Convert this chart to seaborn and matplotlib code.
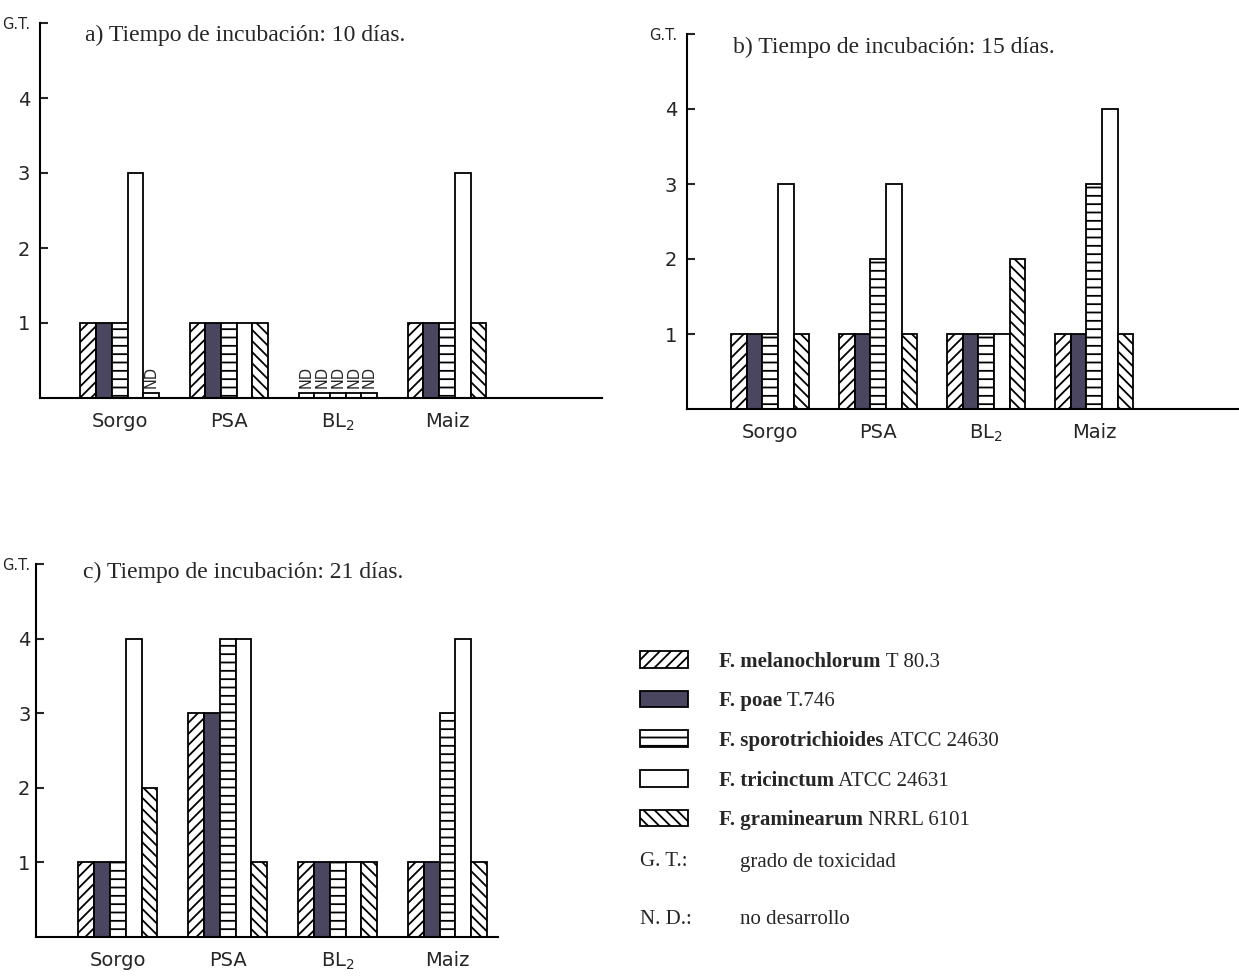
import pandas as pd
import seaborn as sns
import matplotlib.pyplot as plt
from matplotlib.patches import Patch

sns.set_style("white")
plt.rcParams["font.family"] = ["DejaVu Sans"]
plt.rcParams["hatch.linewidth"] = 1.3
plt.rcParams["mathtext.fontset"] = "dejavusans"

# datos
sustratos = ["Sorgo", "PSA", "BL$_2$", "Maiz"]
cepas = ["F. melanochlorum", "F. poae", "F. sporotrichioides",
         "F. tricinctum", "F. graminearum"]
cepas_ref = ["T 80.3", "T.746", "ATCC 24630", "ATCC 24631", "NRRL 6101"]

# grado de toxicidad por sustrato (filas) y cepa (columnas); None = N.D.
gt_10 = [[1, 1, 1, 3, None],
         [1, 1, 1, 1, 1],
         [None, None, None, None, None],
         [1, 1, 1, 3, 1]]
gt_15 = [[1, 1, 1, 3, 1],
         [1, 1, 2, 3, 1],
         [1, 1, 1, 1, 2],
         [1, 1, 3, 4, 1]]
gt_21 = [[1, 1, 1, 4, 2],
         [3, 3, 4, 4, 1],
         [1, 1, 1, 1, 1],
         [1, 1, 3, 4, 1]]

titulos = ["a) Tiempo de incubación: 10 días.",
           "b) Tiempo de incubación: 15 días.",
           "c) Tiempo de incubación: 21 días."]

# estilo
colores = ["white", "#4a4660", "white", "white", "white"]
tramas = ["///", "", "--", "", "\\\\\\"]
ND_ALTO = 0.07
W, H = 1239, 976
SERIF = "Liberation Serif"


def tabla(gt):
    filas = []
    for s, vals in zip(sustratos, gt):
        for c, v in zip(cepas, vals):
            filas.append({"sustrato": s, "cepa": c,
                          "gt": ND_ALTO if v is None else v,
                          "nd": v is None})
    return pd.DataFrame(filas)


def panel(fig, rect, gt, xlim, pad=7):
    ax = fig.add_axes(rect)
    df = tabla(gt)
    sns.barplot(data=df, x="sustrato", y="gt", hue="cepa", order=sustratos,
                hue_order=cepas, palette=colores, saturation=1,
                edgecolor="black", linewidth=1.3, width=0.72,
                errorbar=None, legend=False, ax=ax)
    # un contenedor por cepa, en el orden de hue_order
    for i, cont in enumerate(ax.containers):
        for j, bar in enumerate(cont):
            bar.set_hatch(tramas[i])
            if gt[j][i] is None:
                bar.set_facecolor("white")
                bar.set_hatch("")
                ax.text(bar.get_x() + bar.get_width() / 2, ND_ALTO + 0.07,
                        "ND", rotation=90, ha="center", va="bottom",
                        fontsize=10.5)
    ax.set_xlim(*xlim)
    ax.set_ylim(0, 5)
    ax.set_xlabel("")
    ax.set_ylabel("")
    ax.set_yticks([1, 2, 3, 4, 5])
    ax.set_yticklabels(["1", "2", "3", "4", "G.T."])
    ax.tick_params(axis="y", direction="in", length=6, width=1.5,
                   labelsize=14, pad=pad, left=True)
    ax.get_yticklabels()[-1].set_fontsize(10.5)
    ax.tick_params(axis="x", length=0, labelsize=14, pad=10)
    for s in ["top", "right"]:
        ax.spines[s].set_visible(False)
    for s in ["left", "bottom"]:
        ax.spines[s].set_linewidth(1.5)
        ax.spines[s].set_color("black")
    ax.patch.set_alpha(0)
    return ax


fig = plt.figure(figsize=(W / 100, H / 100), dpi=100)

ax_a = panel(fig, [40 / W, 1 - 398 / H, 562 / W, 375 / H], gt_10, (-0.73, 4.42))
ax_b = panel(fig, [687 / W, 1 - 409 / H, 552 / W, 375 / H], gt_15, (-0.77, 4.34))
ax_c = panel(fig, [36 / W, 1 - 937 / H, 462 / W, 373 / H], gt_21, (-0.745, 3.46),
             pad=4)

for (x, y), t in zip([(85, 35), (733, 47), (83, 572)], titulos):
    fig.text(x / W, 1 - y / H, t, family=SERIF, fontsize=17, va="center")

# leyenda
handles = [Patch(facecolor=c, edgecolor="black", hatch=h, linewidth=1.3)
           for c, h in zip(colores, tramas)]
leg = fig.legend(handles, cepas, loc="upper left",
                 bbox_to_anchor=(640 / W, 1 - 651 / H), frameon=False,
                 prop={"family": SERIF, "weight": "bold", "size": 15},
                 handlelength=2.3, handleheight=0.85, labelspacing=0.92,
                 handletextpad=1.5, borderpad=0, borderaxespad=0)

# cepa (texto normal) a continuación del nombre en negrita
fig.canvas.draw()
rend = fig.canvas.get_renderer()
for t, ref in zip(leg.get_texts(), cepas_ref):
    bb = t.get_window_extent(rend)
    fig.text(bb.x1 / W, bb.y0 / H, " " + ref, ha="left", va="bottom",
             family=SERIF, fontsize=15)

fig.text(640 / W, 1 - 862 / H, "G. T.:", family=SERIF, fontsize=15, va="center")
fig.text(740 / W, 1 - 862 / H, "grado de toxicidad", family=SERIF, fontsize=15,
         va="center")
fig.text(640 / W, 1 - 920 / H, "N. D.:", family=SERIF, fontsize=15, va="center")
fig.text(740 / W, 1 - 920 / H, "no desarrollo", family=SERIF, fontsize=15,
         va="center")

fig.savefig("out.png", dpi=100)
